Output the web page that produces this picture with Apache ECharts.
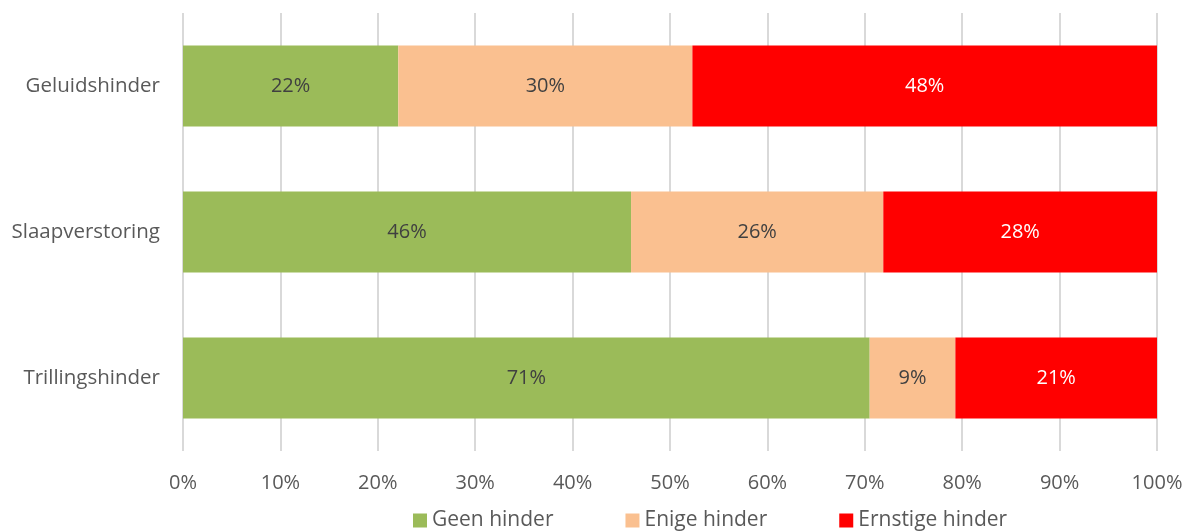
<!DOCTYPE html>
<html><head><meta charset="utf-8">
<script src="https://cdn.jsdelivr.net/npm/echarts@6/dist/echarts.min.js"></script>
<style>html,body{margin:0;padding:0;background:#fff}#c{width:1192px;height:532px}</style>
</head><body><div id="c"></div>
<script>
const categories = ['Trillingshinder', 'Slaapverstoring', 'Geluidshinder'];
const geenHinder = [70.5, 46.0, 22.1];
const enigeHinder = [8.8, 25.9, 30.2];
const ernstigeHinder = [20.7, 28.1, 47.7];
const seriesNames = ['Geen hinder', 'Enige hinder', 'Ernstige hinder'];
const colors = ['#9BBB59', '#FAC090', '#FF0000'];
const labelColors = ['#404040', '#404040', '#FFFFFF'];
const font = 'Open Sans';
const values = [geenHinder, enigeHinder, ernstigeHinder];
const chart = echarts.init(document.getElementById('c'));
chart.setOption({
  animation: false,
  textStyle: { fontFamily: font },
  grid: { left: 183, right: 35, top: 13, bottom: 81 },
  legend: {
    top: 510, left: 413, itemWidth: 14, itemHeight: 14, itemGap: 72,
    icon: 'rect', padding: 0,
    textStyle: { fontSize: 21, color: '#595959', fontFamily: font },
    data: seriesNames
  },
  xAxis: {
    type: 'value', min: 0, max: 100, interval: 10,
    axisLabel: { formatter: '{value}%', fontSize: 20, color: '#595959', margin: 22 },
    splitLine: { lineStyle: { color: '#D9D9D9', width: 2 } },
    axisLine: { show: false }, axisTick: { show: false }
  },
  yAxis: {
    type: 'category', data: categories,
    axisLine: { show: false }, axisTick: { show: false },
    axisLabel: { fontSize: 20.5, color: '#595959', margin: 23 }
  },
  series: seriesNames.map((n, i) => ({
    name: n, type: 'bar', stack: 'total', barWidth: 81,
    data: values[i],
    itemStyle: { color: colors[i] },
    label: {
      show: true, position: 'inside', fontSize: 20, color: labelColors[i],
      formatter: p => Math.round(p.value) + '%'
    }
  }))
});
</script></body></html>
